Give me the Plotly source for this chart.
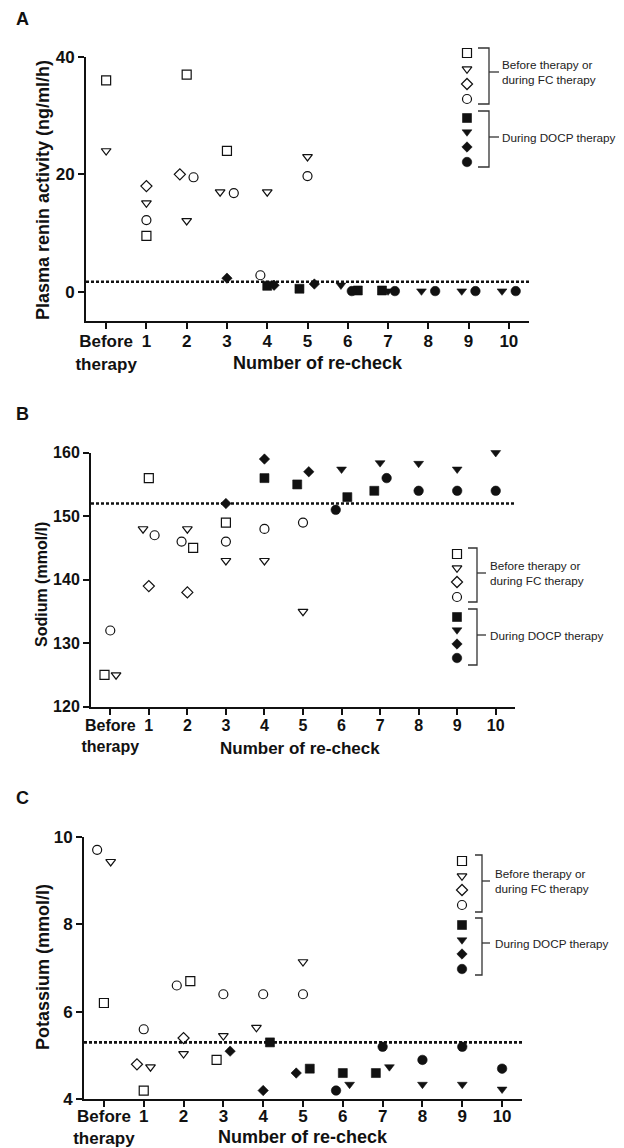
import plotly.graph_objects as go

# ---------------- data ----------------
tick_vals = [0, 1, 2, 3, 4, 5, 6, 7, 8, 9, 10]
tick_text = ["Before<br>therapy", "1", "2", "3", "4", "5", "6", "7", "8", "9", "10"]

series_names = ["FC square", "FC triangle", "FC diamond", "FC circle",
                "DOCP square", "DOCP triangle", "DOCP diamond", "DOCP circle"]

# Panel A: plasma renin activity (ng/ml/h)
A_open_square_x = [0, 1, 2, 3]
A_open_square_y = [36, 9.5, 37, 24]
A_open_tri_x = [0, 1, 2, 2.83, 4, 5]
A_open_tri_y = [24, 15.1, 12.1, 17, 17, 23]
A_open_diamond_x = [1, 1.83]
A_open_diamond_y = [18, 20]
A_open_circle_x = [1, 2.17, 3.17, 3.83, 5]
A_open_circle_y = [12.2, 19.5, 16.8, 2.8, 19.7]
A_fill_square_x = [4.0, 4.8, 6.25, 6.85]
A_fill_square_y = [1.0, 0.5, 0.2, 0.2]
A_fill_tri_x = [5.83, 7.0, 7.83, 8.83, 9.83]
A_fill_tri_y = [1.1, 0.1, 0.1, 0.1, 0.1]
A_fill_diamond_x = [3, 4.17, 5.17]
A_fill_diamond_y = [2.3, 1.1, 1.3]
A_fill_circle_x = [6.1, 7.17, 8.17, 9.17, 10.17]
A_fill_circle_y = [0.1, 0.1, 0.1, 0.1, 0.1]
A_ref = 1.7

# Panel B: sodium (mmol/l)
B_open_square_x = [-0.15, 1, 2.15, 3]
B_open_square_y = [125, 156, 145, 149]
B_open_tri_x = [0.15, 0.85, 2, 3, 4, 5]
B_open_tri_y = [125, 148, 148, 143, 143, 135]
B_open_diamond_x = [1, 2]
B_open_diamond_y = [139, 138]
B_open_circle_x = [0, 1.15, 1.85, 3, 4, 5]
B_open_circle_y = [132, 147, 146, 146, 148, 149]
B_fill_square_x = [4, 4.85, 6.15, 6.85]
B_fill_square_y = [156, 155, 153, 154]
B_fill_tri_x = [6, 7, 8, 9, 10]
B_fill_tri_y = [157.4, 158.4, 158.3, 157.4, 160]
B_fill_diamond_x = [3, 4, 5.15]
B_fill_diamond_y = [152, 159, 157]
B_fill_circle_x = [5.85, 7.17, 8, 9, 10]
B_fill_circle_y = [151, 156, 154, 154, 154]
B_ref = 152

# Panel C: potassium (mmol/l)
C_open_square_x = [0, 1, 2.17, 2.83]
C_open_square_y = [6.2, 4.2, 6.7, 4.9]
C_open_tri_x = [0.17, 1.17, 2, 3, 3.83, 5]
C_open_tri_y = [9.43, 4.74, 5.04, 5.45, 5.64, 7.14]
C_open_diamond_x = [0.83, 2]
C_open_diamond_y = [4.8, 5.4]
C_open_circle_x = [-0.17, 1, 1.83, 3, 4, 5]
C_open_circle_y = [9.7, 5.6, 6.6, 6.4, 6.4, 6.4]
C_fill_square_x = [4.17, 5.17, 6, 6.83]
C_fill_square_y = [5.3, 4.7, 4.6, 4.6]
C_fill_tri_x = [6.17, 7.17, 8, 9, 10]
C_fill_tri_y = [4.34, 4.74, 4.34, 4.34, 4.23]
C_fill_diamond_x = [3.17, 4, 4.83]
C_fill_diamond_y = [5.1, 4.2, 4.6]
C_fill_circle_x = [5.83, 7, 8, 9, 10]
C_fill_circle_y = [4.2, 5.2, 4.9, 5.2, 4.7]
C_ref = 5.3

legend_label_1 = "Before therapy or<br>during FC therapy"
legend_label_2 = "During DOCP therapy"

# ---------------- styling / layout ----------------
W, H = 624, 1148
FONT = "Arial, 'Liberation Sans', Helvetica, sans-serif"
INK = "#111111"

symbols = ["square-open", "triangle-down-open", "diamond-open", "circle-open",
           "square", "triangle-down", "diamond", "circle"]
sizes = [9, 8.5, 8.5, 9, 9, 8.5, 8, 9.5]


def fx(p):
    return p / W


def fy(p):
    return 1 - p / H


panels = [
    dict(name="A", xa="x", ya="y", xd=(86, 529), yd=(57, 321), yr=[-5, 40], yt=[0, 20, 40],
         ytitle="Plasma renin activity (ng/ml/h)", tfs=17, yfs=18, xfs=18, standoff=-2,
         ytit_pos=(43, 190), xtit_pos=(318, 363), letter_pos=(22, 19), ref=A_ref,
         data=[(A_open_square_x, A_open_square_y), (A_open_tri_x, A_open_tri_y),
               (A_open_diamond_x, A_open_diamond_y), (A_open_circle_x, A_open_circle_y),
               (A_fill_square_x, A_fill_square_y), (A_fill_tri_x, A_fill_tri_y),
               (A_fill_diamond_x, A_fill_diamond_y), (A_fill_circle_x, A_fill_circle_y)],
         leg_x=467, leg_rows=[53, 69, 84, 99, 118, 132, 147, 162],
         br1=(478, 489, 48, 104, 72, 499), br2=(478, 489, 111, 167, 137, 499), txt_x=501),
    dict(name="B", xa="x2", ya="y2", xd=(91, 515), yd=(452.7, 706.7), yr=[120, 160],
         yt=[120, 130, 140, 150, 160],
         ytitle="Sodium (mmol/l)", tfs=16, yfs=16, xfs=17, standoff=-3,
         ytit_pos=(41, 585), xtit_pos=(300, 748), letter_pos=(22, 414), ref=B_ref,
         data=[(B_open_square_x, B_open_square_y), (B_open_tri_x, B_open_tri_y),
               (B_open_diamond_x, B_open_diamond_y), (B_open_circle_x, B_open_circle_y),
               (B_fill_square_x, B_fill_square_y), (B_fill_tri_x, B_fill_tri_y),
               (B_fill_diamond_x, B_fill_diamond_y), (B_fill_circle_x, B_fill_circle_y)],
         leg_x=457, leg_rows=[554, 568, 582, 597, 617, 630, 644, 658],
         br1=(468, 477, 548, 602, 573, 486), br2=(468, 477, 609, 665, 635, 486), txt_x=489),
    dict(name="C", xa="x3", ya="y3", xd=(84, 522), yd=(836.7, 1099.3), yr=[4, 10],
         yt=[4, 6, 8, 10],
         ytitle="Potassium (mmol/l)", tfs=17, yfs=18, xfs=18, standoff=-6,
         ytit_pos=(43, 967), xtit_pos=(303, 1137), letter_pos=(22, 798), ref=C_ref,
         data=[(C_open_square_x, C_open_square_y), (C_open_tri_x, C_open_tri_y),
               (C_open_diamond_x, C_open_diamond_y), (C_open_circle_x, C_open_circle_y),
               (C_fill_square_x, C_fill_square_y), (C_fill_tri_x, C_fill_tri_y),
               (C_fill_diamond_x, C_fill_diamond_y), (C_fill_circle_x, C_fill_circle_y)],
         leg_x=462, leg_rows=[861, 876, 890, 905, 925, 940, 954, 969],
         br1=(475, 482, 855, 912, 881, 490), br2=(475, 482, 918, 975, 943, 490), txt_x=494),
]

fig = go.Figure()
layout = dict(
    template="none",
    width=W, height=H, autosize=False,
    margin=dict(l=0, r=0, t=0, b=0, pad=0, autoexpand=False),
    paper_bgcolor="white", plot_bgcolor="rgba(0,0,0,0)",
    showlegend=False,
    font=dict(family=FONT, color=INK),
)
shapes = []
annotations = []

for i, p in enumerate(panels):
    suffix = "" if i == 0 else str(i + 1)
    layout["xaxis" + suffix] = dict(
        domain=[fx(p["xd"][0]), fx(p["xd"][1])], anchor=p["ya"],
        range=[-0.5, 10.5], tickmode="array", tickvals=tick_vals, ticktext=tick_text,
        ticks="outside", ticklen=6, tickwidth=2, tickcolor=INK,
        ticklabelstandoff=p["standoff"],
        showline=True, linewidth=2, linecolor=INK, showgrid=False, zeroline=False,
        tickfont=dict(family=FONT, size=p["tfs"], color=INK, weight="bold"),
        fixedrange=True, automargin=False,
    )
    layout["yaxis" + suffix] = dict(
        domain=[fy(p["yd"][1]), fy(p["yd"][0])], anchor=p["xa"],
        range=p["yr"], tickmode="array", tickvals=p["yt"],
        ticks="outside", ticklen=6, tickwidth=2, tickcolor=INK,
        showline=True, linewidth=2, linecolor=INK, showgrid=False, zeroline=False,
        tickfont=dict(family=FONT, size=p["tfs"], color=INK, weight="bold"),
        fixedrange=True, automargin=False,
    )
    # reference (dashed) line
    shapes.append(dict(type="line", xref=p["xa"] + " domain", yref=p["ya"],
                       x0=0, x1=1, y0=p["ref"], y1=p["ref"], layer="below",
                       line=dict(color=INK, width=2.6, dash="3px,2px")))
    # data
    for k, (xs, ys) in enumerate(p["data"]):
        fig.add_trace(go.Scatter(
            x=xs, y=ys, mode="markers", name=series_names[k],
            xaxis=p["xa"], yaxis=p["ya"], cliponaxis=False,
            marker=dict(symbol=symbols[k], size=sizes[k], color=INK,
                        line=dict(color=INK, width=1.2 if k < 4 else 0.6)),
            hoverinfo="skip"))
    # panel letter
    annotations.append(dict(text="<b>%s</b>" % p["name"], xref="x4", yref="y4",
                            x=p["letter_pos"][0], y=p["letter_pos"][1],
                            showarrow=False, xanchor="center", yanchor="middle",
                            font=dict(family=FONT, size=18, color=INK)))
    # axis titles
    annotations.append(dict(text="<b>%s</b>" % p["ytitle"], xref="x4", yref="y4",
                            x=p["ytit_pos"][0], y=p["ytit_pos"][1], textangle=-90,
                            showarrow=False, xanchor="center", yanchor="middle",
                            font=dict(family=FONT, size=p["yfs"], color=INK)))
    annotations.append(dict(text="<b>Number of re-check</b>", xref="x4", yref="y4",
                            x=p["xtit_pos"][0], y=p["xtit_pos"][1],
                            showarrow=False, xanchor="center", yanchor="middle",
                            font=dict(family=FONT, size=p["xfs"], color=INK)))
    # legend symbols (one per symbol)
    for k in range(8):
        fig.add_trace(go.Scatter(
            x=[p["leg_x"]], y=[p["leg_rows"][k]], mode="markers", xaxis="x4", yaxis="y4",
            cliponaxis=False,
            marker=dict(symbol=symbols[k], size=sizes[k], color=INK,
                        line=dict(color=INK, width=1.2 if k < 4 else 0.6)),
            hoverinfo="skip"))
    # brackets
    for br, lbl in ((p["br1"], legend_label_1), (p["br2"], legend_label_2)):
        x0, x1, y0, y1, ym, xt = br
        shapes.append(dict(type="path", xref="x4", yref="y4",
                           path="M %s,%s L %s,%s L %s,%s L %s,%s" % (x0, y0, x1, y0, x1, y1, x0, y1),
                           line=dict(color="#333333", width=1.3)))
        shapes.append(dict(type="line", xref="x4", yref="y4", x0=x1, x1=xt, y0=ym, y1=ym,
                           line=dict(color="#333333", width=1.3)))
        annotations.append(dict(text=lbl, xref="x4", yref="y4", x=p["txt_x"], y=ym,
                                showarrow=False, xanchor="left", yanchor="middle", align="left",
                                borderpad=0,
                                font=dict(family=FONT, size=11.7, color="#222222")))

layout["xaxis4"] = dict(domain=[0, 1], range=[0, W], visible=False, fixedrange=True,
                        anchor="y4", automargin=False)
layout["yaxis4"] = dict(domain=[0, 1], range=[H, 0], visible=False, fixedrange=True,
                        anchor="x4", automargin=False)
layout["shapes"] = shapes
layout["annotations"] = annotations
fig.update_layout(**layout)

fig.write_html("out.html", config={"displayModeBar": False},
               post_script="document.body.style.margin='0px';")
